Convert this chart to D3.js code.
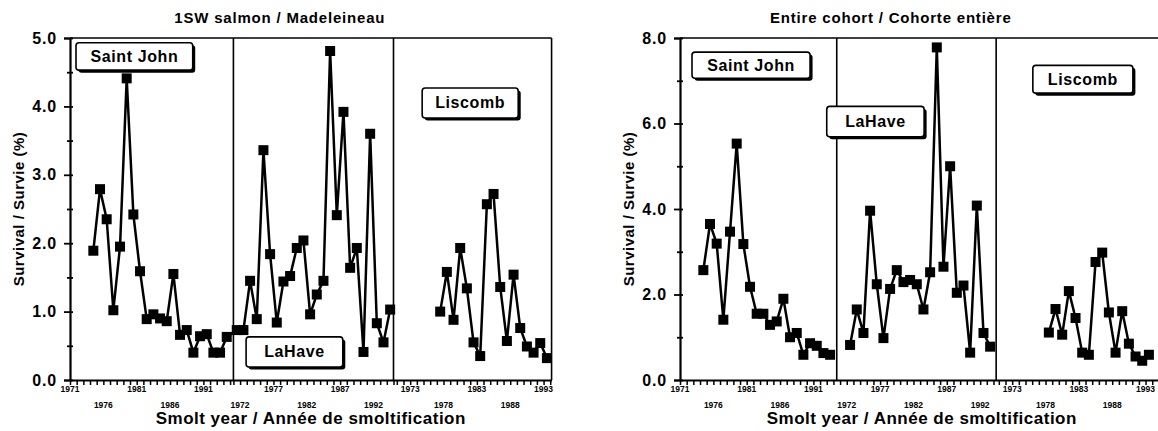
<!DOCTYPE html>
<html>
<head>
<meta charset="utf-8">
<script src="https://cdn.jsdelivr.net/npm/d3@7"></script>
<style>
  body { margin: 0; background: #fff; }
  text { font-family: "Liberation Sans", Arial, sans-serif; font-weight: bold; fill: #000; }
</style>
</head>
<body>
<div id="wrapper"></div>
<script>
// 1SW salmon / Madeleineau
const sjYears1SW = [1974,1975,1976,1977,1978,1979,1980,1981,1982,1983,1984,1985,1986,1987,1988,1989,1990,1991,1992,1993,1994];
const sj1SW = [1.89,2.79,2.35,1.02,1.95,4.41,2.42,1.59,0.89,0.96,0.90,0.86,1.55,0.66,0.73,0.40,0.64,0.67,0.40,0.40,0.63];
const lhYears1SW = [1971,1972,1973,1974,1975,1976,1977,1978,1979,1980,1981,1982,1983,1984,1985,1986,1987,1988,1989,1990,1991,1992,1993,1994];
const lh1SW = [0.73,0.73,1.45,0.89,3.36,1.84,0.84,1.44,1.52,1.93,2.04,0.96,1.25,1.45,4.81,2.41,3.92,1.64,1.93,0.41,3.60,0.83,0.55,1.03];
const liYears1SW = [1977,1978,1979,1980,1981,1982,1983,1984,1985,1986,1987,1988,1989,1990,1991,1992,1993];
const li1SW = [1.00,1.58,0.88,1.93,1.34,0.55,0.35,2.57,2.72,1.36,0.57,1.54,0.76,0.49,0.40,0.54,0.32];

// Entire cohort / Cohorte entière
const sjYearsAll = [1974,1975,1976,1977,1978,1979,1980,1981,1982,1983,1984,1985,1986,1987,1988,1989,1990,1991,1992,1993];
const sjAll = [2.57,3.65,3.19,1.41,3.47,5.53,3.18,2.18,1.55,1.55,1.29,1.37,1.90,1.00,1.10,0.59,0.86,0.80,0.63,0.59];
const lhYearsAll = [1972,1973,1974,1975,1976,1977,1978,1979,1980,1981,1982,1983,1984,1985,1986,1987,1988,1989,1990,1991,1992,1993];
const lhAll = [0.82,1.65,1.10,3.96,2.24,0.98,2.13,2.57,2.29,2.34,2.24,1.65,2.52,7.78,2.65,5.00,2.04,2.21,0.64,4.08,1.10,0.78];
const liYearsAll = [1978,1979,1980,1981,1982,1983,1984,1985,1986,1987,1988,1989,1990,1991,1992,1993];
const liAll = [1.11,1.66,1.06,2.08,1.45,0.64,0.59,2.76,2.98,1.58,0.64,1.61,0.85,0.55,0.45,0.59];

// tick labels
const sjTickYears = [1971,1976,1981,1986,1991];
const lhTickYears = [1972,1977,1982,1987,1992];
const liTickYears = [1973,1978,1983,1988,1993];
const yTicks1SW = [0,1,2,3,4,5];
const yMinor1SW = [0.5,1.5,2.5,3.5,4.5];
const yTicksAll = [0,2,4,6,8];
const yMinorAll = [1,3,5,7];

const rivers = ["Saint John", "LaHave", "Liscomb"];

const panels = [
  {
    title: "1SW salmon / Madeleineau",
    x0: 70, uMax: 72.2, yMax: 5, yTicks: yTicks1SW, yMinor: yMinor1SW,
    origins: [0, 24.5, 49], dividers: [24.5, 48.5],
    series: [[sjYears1SW, sj1SW], [lhYears1SW, lh1SW], [liYears1SW, li1SW]],
    joinFirstTwo: true,
    boxes: [[0.9, 18.4, 4.93, 4.53], [26.4, 40.9, 0.63, 0.19], [52.8, 67.2, 4.27, 3.83]]
  },
  {
    title: "Entire cohort / Cohorte entière",
    x0: 680, uMax: 72.5, yMax: 8, yTicks: yTicksAll, yMinor: yMinorAll,
    origins: [0, 24, 47.8], dividers: [23.5, 47.4],
    series: [[sjYearsAll, sjAll], [lhYearsAll, lhAll], [liYearsAll, liAll]],
    joinFirstTwo: false,
    boxes: [[1.8, 19.5, 7.67, 7.06], [22.0, 36.6, 6.40, 5.69], [52.9, 67.9, 7.36, 6.71]]
  }
];

const width = 1158, height = 431;
const pxPerUnit = 6.67;
const yTop = 38, yBottom = 380;

const svg = d3.select("#wrapper").append("svg")
  .attr("width", width)
  .attr("height", height);

panels.forEach(p => {
  const x = d3.scaleLinear().domain([0, p.uMax]).range([p.x0, p.x0 + p.uMax * pxPerUnit]);
  const y = d3.scaleLinear().domain([0, p.yMax]).range([yBottom, yTop]);
  const g = svg.append("g");
  const xL = x.range()[0], xR = x.range()[1];

  // frame: top, right and segment dividers
  g.append("line").attr("x1", xL).attr("x2", xR).attr("y1", yTop).attr("y2", yTop)
    .attr("stroke", "#000").attr("stroke-width", 1.6);
  g.append("line").attr("x1", xR).attr("x2", xR).attr("y1", yTop).attr("y2", yBottom)
    .attr("stroke", "#000").attr("stroke-width", 1.6);
  p.dividers.forEach(d => {
    g.append("line").attr("x1", x(d)).attr("x2", x(d)).attr("y1", yTop).attr("y2", yBottom)
      .attr("stroke", "#000").attr("stroke-width", 1.6);
  });

  // y axis
  const yAxis = g.append("g").attr("transform", `translate(${xL},0)`)
    .call(d3.axisLeft(y).tickValues(p.yTicks).tickFormat(d3.format(".1f")).tickSize(6).tickPadding(7));
  yAxis.select(".domain").attr("stroke-width", 2.2);
  yAxis.selectAll(".tick line").attr("x2", -6).attr("x1", 3).attr("stroke-width", 1.8);
  yAxis.selectAll(".tick text").style("font-size", "16px").attr("letter-spacing", "0.8px");
  const yMin = g.append("g").attr("transform", `translate(${xL},0)`)
    .call(d3.axisLeft(y).tickValues(p.yMinor).tickFormat("").tickSize(3));
  yMin.select(".domain").remove();
  yMin.selectAll(".tick line").attr("x1", 3).attr("stroke-width", 1.8);

  // x axis: one tick per year in each segment
  const ends = p.dividers.concat([p.uMax]);
  const minorU = [];
  p.origins.forEach((o, i) => {
    d3.range(0, ends[i] - o + 0.01, 1).forEach(k => minorU.push(o + k));
  });
  const xAxis = g.append("g").attr("transform", `translate(0,${yBottom})`)
    .call(d3.axisBottom(x).tickValues(minorU).tickFormat("").tickSizeInner(5).tickSizeOuter(0));
  xAxis.select(".domain").attr("stroke-width", 2.2);
  xAxis.selectAll(".tick line").attr("stroke-width", 1.5);

  const tickLabels = [];
  [sjTickYears, lhTickYears, liTickYears].forEach((yrs, i) => {
    yrs.forEach(yr => tickLabels.push({ yr, u: p.origins[i] + (yr - 1971) }));
  });
  g.selectAll(".xlab").data(tickLabels).join("text")
    .attr("x", d => x(d.u))
    .attr("y", (d, i) => i % 2 === 0 ? 392 : 408)
    .attr("text-anchor", "middle")
    .style("font-size", "8.5px")
    .text(d => d.yr);

  // series
  const line = d3.line().x(d => x(d.u)).y(d => y(d.v));
  const allPts = p.series.map(([yrs, vals], i) =>
    yrs.map((yr, j) => ({ u: p.origins[i] + (yr - 1971) + 0.5, v: vals[j] })));
  const paths = p.joinFirstTwo ? [allPts[0].concat(allPts[1]), allPts[2]] : allPts;
  paths.forEach(pts => {
    g.append("path").attr("d", line(pts))
      .attr("fill", "none").attr("stroke", "#000").attr("stroke-width", 2.5);
  });
  allPts.forEach(pts => {
    g.selectAll(null).data(pts).join("rect")
      .attr("x", d => x(d.u) - 5).attr("y", d => y(d.v) - 5)
      .attr("width", 10).attr("height", 10).attr("fill", "#000");
  });

  // river label boxes
  p.boxes.forEach(([u0, u1, v0, v1], i) => {
    const bx = x(u0), by = y(v0), bw = x(u1) - x(u0), bh = y(v1) - y(v0);
    g.append("rect").attr("x", bx + 2.5).attr("y", by + 2.5).attr("width", bw).attr("height", bh)
      .attr("rx", 3).attr("fill", "#000");
    g.append("rect").attr("x", bx).attr("y", by).attr("width", bw).attr("height", bh)
      .attr("rx", 3).attr("fill", "#fff").attr("stroke", "#000").attr("stroke-width", 1.6);
    g.append("text").attr("x", bx + bw / 2).attr("y", by + bh / 2 + 5.5)
      .attr("text-anchor", "middle").style("font-size", "16px").attr("letter-spacing", "0.6px")
      .text(rivers[i]);
  });

  // titles
  g.append("text").attr("x", (xL + xR) / 2 - 31).attr("y", 23)
    .attr("text-anchor", "middle").style("font-size", "15px").attr("letter-spacing", "0.8px")
    .text(p.title);
  g.append("text").attr("x", (xL + xR) / 2).attr("y", 424)
    .attr("text-anchor", "middle").style("font-size", "17px").attr("letter-spacing", "0.5px")
    .text("Smolt year / Année de smoltification");
  g.append("text")
    .attr("transform", `translate(${xL - 46},${(yTop + yBottom) / 2}) rotate(-90)`)
    .attr("text-anchor", "middle").style("font-size", "15px").attr("letter-spacing", "0.5px")
    .text("Survival / Survie (%)");
});
</script>
</body>
</html>
